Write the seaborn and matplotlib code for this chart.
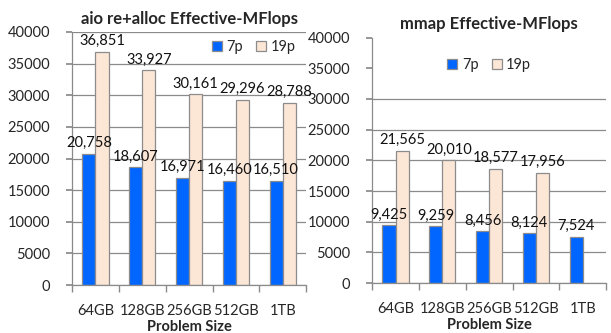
import numpy as np
import pandas as pd
import matplotlib
matplotlib.use("Agg")
import matplotlib.pyplot as plt
import seaborn as sns

sizes = ["64GB", "128GB", "256GB", "512GB", "1TB"]
series = ["7p", "19p"]
aio_7p = [20758, 18607, 16971, 16460, 16510]
aio_19p = [36851, 33927, 30161, 29296, 28788]
mmap_7p = [9425, 9259, 8456, 8124, 7524]
mmap_19p = [21565, 20010, 18577, 17956, np.nan]
y_ticks = [0, 5000, 10000, 15000, 20000, 25000, 30000, 35000, 40000]

colors = {"7p": "#0066FF", "19p": "#FCE6D6"}

sns.set_theme(style="white")
plt.rcParams["font.family"] = ["Lato", "DejaVu Sans"]


def long_frame(a, b):
    return pd.DataFrame({
        "size": sizes * 2,
        "series": ["7p"] * len(sizes) + ["19p"] * len(sizes),
        "value": list(a) + list(b),
    })


fig = plt.figure(figsize=(6.11, 3.33), dpi=100)
ax1 = fig.add_axes([0.118, 0.144, 0.383, 0.760])
ax2 = fig.add_axes([0.609, 0.150, 0.383, 0.737])

panels = [
    (ax1, long_frame(aio_7p, aio_19p), "aio re+alloc Effective-MFlops",
     y_ticks, (0.54, 1.02)),
    (ax2, long_frame(mmap_7p, mmap_19p), "mmap Effective-MFlops",
     [t for t in y_ticks if t <= 30000], (0.265, 0.97)),
]

for ax, df, title, grid_vals, leg_pos in panels:
    for v in grid_vals:
        ax.axhline(v, color="#8a8a8a", lw=0.9, zorder=0)
    sns.barplot(data=df, x="size", y="value", hue="series",
                hue_order=series, palette=colors, saturation=1, width=0.56,
                edgecolor="#8c8c8c", linewidth=0.9, ax=ax, zorder=2,
                legend=True)
    for cont in ax.containers:
        for p in cont:
            h = p.get_height()
            if np.isnan(h) or h == 0:
                continue
            ax.text(p.get_x() + p.get_width() / 2, h + 600, f"{h:,.0f}",
                    ha="center", va="bottom", fontsize=10.5,
                    color="#111111", zorder=4)
    ax.set_ylim(0, 40000)
    ax.set_xlim(-0.5, len(sizes) - 0.5)
    ax.set_yticks(y_ticks)
    ax.set_yticklabels([str(t) for t in y_ticks], fontsize=10.5)
    ax.set_xticks(range(len(sizes)))
    ax.set_xticklabels(sizes, fontsize=10.5)
    ax.set_xticks(np.arange(-0.5, len(sizes)), minor=True)
    ax.tick_params(axis="x", which="major", length=0, pad=14)
    ax.tick_params(axis="x", which="minor", length=5, color="#8a8a8a",
                   bottom=True, direction="out")
    ax.tick_params(axis="y", length=4, color="#8a8a8a", left=True,
                   direction="out", pad=12)
    ax.set_xlabel("Problem Size", fontsize=10.5, fontweight="bold",
                  labelpad=1)
    ax.set_ylabel("")
    ax.set_title(title, fontsize=12, fontweight="bold", pad=6)
    for s in ["top", "right"]:
        ax.spines[s].set_visible(False)
    for s in ["left", "bottom"]:
        ax.spines[s].set_color("#8a8a8a")
        ax.spines[s].set_linewidth(0.9)
    leg = ax.legend(loc="upper left", bbox_to_anchor=leg_pos, ncol=2,
                    frameon=False, fontsize=10.5, handlelength=0.7,
                    handleheight=0.7, handletextpad=0.3, columnspacing=0.9)
    for hnd in leg.legend_handles:
        hnd.set_edgecolor("#8c8c8c")

fig.savefig("out.png", dpi=100)
